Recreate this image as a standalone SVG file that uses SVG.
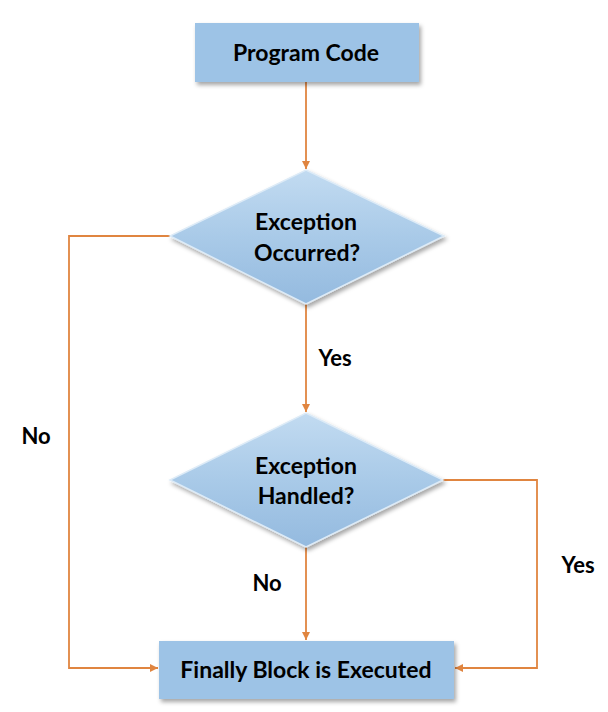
<svg xmlns="http://www.w3.org/2000/svg" width="608" height="712" viewBox="0 0 608 712">
<style>
.t{font-family:Lato,"Open Sans","Liberation Sans",sans-serif;font-weight:bold;fill:#000;text-anchor:middle;font-size:23px}
.l{font-size:22px}
.box{fill:#9DC3E6}
.dia{fill:url(#dg);stroke:#DDEBF7;stroke-width:1.5}
.c{fill:none;stroke:#E08540;stroke-width:1.8}
</style>
<defs>
<marker id="ah" viewBox="0 0 10 10" refX="10" refY="5" markerWidth="8" markerHeight="8" orient="auto" markerUnits="userSpaceOnUse">
<path d="M0,0 L10,5 L0,10 z" fill="#E08540"/>
</marker>
<linearGradient id="dg" x1="0" y1="0" x2="0" y2="1">
<stop offset="0" stop-color="#C2DBF1"/>
<stop offset="0.5" stop-color="#A9CAE8"/>
<stop offset="1" stop-color="#94BADF"/>
</linearGradient>
<filter id="sh" x="-10%" y="-10%" width="130%" height="140%">
<feDropShadow dx="2" dy="3" stdDeviation="2" flood-color="#000" flood-opacity="0.35"/>
</filter>
</defs>
<g id="connectors">
<line class="c" x1="306" y1="82" x2="306" y2="169" marker-end="url(#ah)"/>
<line class="c" x1="306" y1="304" x2="306" y2="412" marker-end="url(#ah)"/>
<line class="c" x1="306" y1="547" x2="306" y2="640" marker-end="url(#ah)"/>
<polyline class="c" points="170,236 69,236 69,668 158,668" marker-end="url(#ah)"/>
<polyline class="c" points="443,480 537,480 537,668 455,668" marker-end="url(#ah)"/>
<text class="t l" x="335" y="366">Yes</text>
<text class="t l" x="36" y="444">No</text>
<text class="t l" x="267" y="591">No</text>
<text class="t l" x="578" y="573">Yes</text>
</g>
<g id="program-code">
<rect class="box" x="195" y="23" width="224" height="59" filter="url(#sh)"/>
<text class="t" x="306" y="61">Program Code</text>
</g>
<g id="exception-occurred">
<polygon class="dia" points="306,170 444,236 306,304 170,236" filter="url(#sh)"/>
<text class="t" x="306" y="230">Exception</text>
<text class="t" x="307" y="261">Occurred?</text>
</g>
<g id="exception-handled">
<polygon class="dia" points="306,413 443,480 306,547 170,480" filter="url(#sh)"/>
<text class="t" x="306" y="474">Exception</text>
<text class="t" x="306" y="504">Handled?</text>
</g>
<g id="finally-block">
<rect class="box" x="159" y="641" width="295" height="58" filter="url(#sh)"/>
<text class="t" x="306" y="678">Finally Block is Executed</text>
</g>
</svg>
